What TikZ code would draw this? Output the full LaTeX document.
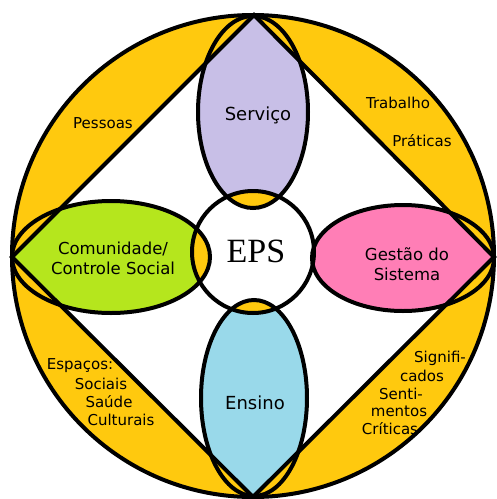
\documentclass[tikz,border=0pt]{standalone}
\usepackage{fontspec}
\setmainfont{DejaVu Sans}
\newfontfamily\epsfont{Liberation Serif}
\definecolor{gold}{HTML}{FFC90E}
\definecolor{purp}{HTML}{C8BFE7}
\definecolor{lgreen}{HTML}{B5E61D}
\definecolor{pinkc}{HTML}{FF7EB6}
\definecolor{lblue}{HTML}{99D9EA}
\begin{document}
\begin{tikzpicture}[x=1pt,y=-1pt,
  outline/.style={draw=black,line width=4pt},
  lbl/.style={font=\fontsize{16.5}{20}\selectfont, align=center, inner sep=0pt, text=black},
  lblbig/.style={font=\fontsize{18}{20}\selectfont, align=center, inner sep=0pt, text=black},
  side/.style={font=\fontsize{15}{17}\selectfont, inner sep=0pt, text=black}]
\useasboundingbox (0,0) rectangle (497,499);
\def\diamondpath{(254,15) -- (494,257) -- (253,497) -- (12,257) -- cycle}
\def\ellT{(253,112) ellipse [x radius=55, y radius=96]}
\def\ellB{(254,398) ellipse [x radius=53, y radius=98]}
\def\ellL{(111,257) ellipse [x radius=99, y radius=56]}
\def\ellR{(403,258) ellipse [x radius=91, y radius=53]}
% background
\fill[gold] (253,256) circle (241);
\fill[white] \diamondpath;
\begin{scope}
  \clip \diamondpath;
  \fill[purp] \ellT;
  \fill[lblue] \ellB;
  \fill[lgreen] \ellL;
  \fill[pinkc] \ellR;
\end{scope}
\fill[white] (253,252) circle (61);
\begin{scope}
  \clip (253,252) circle (61);
  \fill[gold] \ellT;
  \fill[gold] \ellB;
  \fill[gold] \ellL;
  \fill[gold] \ellR;
\end{scope}
% outlines
\draw[outline] (253,256) circle (241);
\draw[outline, line join=miter] \diamondpath;
\draw[outline] \ellT;
\draw[outline] \ellB;
\draw[outline] \ellL;
\draw[outline] \ellR;
\draw[outline] (253,252) circle (61);
% labels
\node[lblbig] (serv) at (258,115) {Serviço};
\node[font=\epsfont\fontsize{34}{36}\selectfont, inner sep=0pt] (eps) at (256,251) {EPS};
\node[lbl] (com) at (113,258) {Comunidade/\\Controle Social};
\node[lbl] (gest) at (407,264) {Gestão do\\Sistema};
\node[lblbig] (ens) at (255,403) {Ensino};
\node[side] (pess) at (103,123) {Pessoas};
\node[side] (trab) at (398,103) {Trabalho};
\node[side] (prat) at (422,141) {Práticas};
\node[side] (esp) at (80,366) {Espaços:};
\node[side] (soc) at (101,384) {Sociais};
\node[side] (sau) at (109,402) {Saúde};
\node[side] (cul) at (121,420) {Culturais};
\node[side] (sig) at (440,358) {Signifi-};
\node[side] (cad) at (422,376) {cados};
\node[side] (sen) at (401,394) {Senti-};
\node[side] (men) at (399,411) {mentos};
\node[side] (cri) at (390,429) {Críticas};
\end{tikzpicture}
\end{document}
